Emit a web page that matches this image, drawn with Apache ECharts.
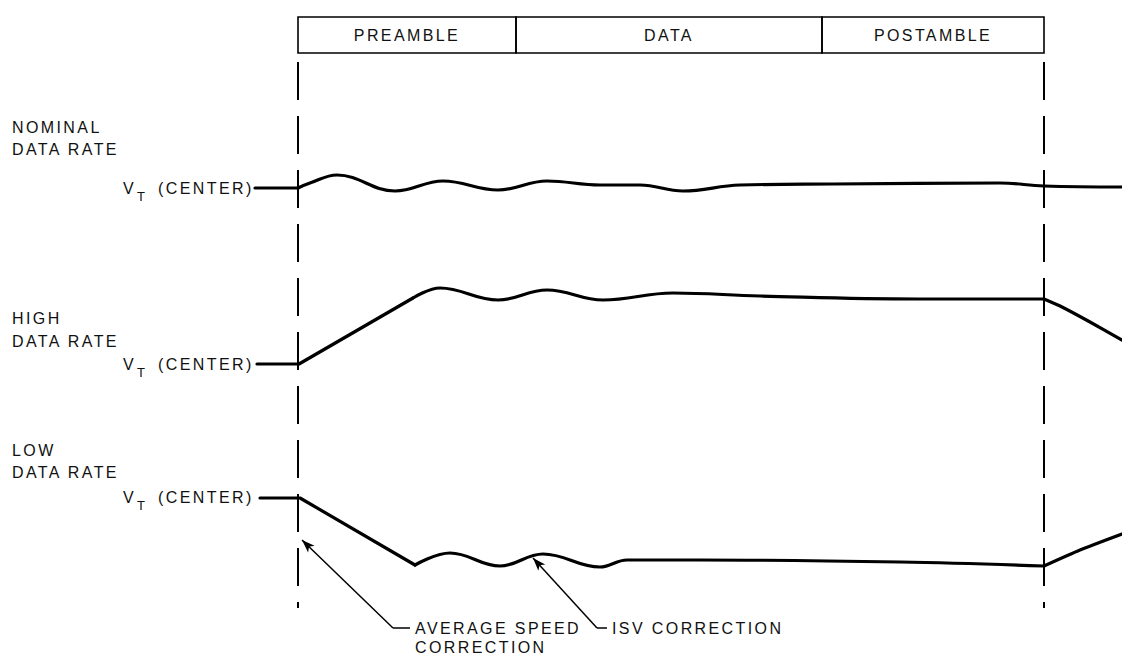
<!DOCTYPE html>
<html>
<head>
<meta charset="utf-8">
<script src="https://cdn.jsdelivr.net/npm/echarts@6/dist/echarts.min.js"></script>
<style>
  html, body { margin: 0; padding: 0; background: #fff; }
  #main { width: 1122px; height: 657px; }
  #main text { letter-spacing: 2.4px; }
</style>
</head>
<body>
<div id="main"></div>
<script>
// time runs left to right; phase edges in the same time units
const phaseNames = ['PREAMBLE', 'DATA', 'POSTAMBLE']
const phaseEdges = [298, 516, 822, 1044]

// [time, deviation from V_T centre]
// lead = flat stub + straight ramp, wave = smooth part, tail = after postamble
const nominalLead = [[255, 0], [298, 0]]
const nominalWave = [
  [298, 0], [310, 5], [337, 13], [395, -3], [443, 7], [498, -2], [547, 7],
  [600, 3], [640, 3], [683, -3], [740, 3], [833, 4], [1000, 5], [1044, 2], [1122, 1]
]
const highLead = [[257, 0], [299, 0], [413, 66]]
const highWave = [
  [413, 66], [440, 76], [498, 64], [547, 74], [603, 64], [673, 71],
  [760, 68], [918, 65], [1044, 65]
]
const highTail = [[1044, 65], [1062, 57], [1090, 42], [1122, 24]]
const lowLead = [[260, 0], [300, 0], [415, -67]]
const lowWave = [
  [415, -67], [450, -55], [500, -68], [543, -56], [600, -69], [627, -62],
  [700, -62], [900, -64], [1044, -68]
]
const lowTail = [[1044, -68], [1080, -52], [1122, -36]]

// annotation leaders: arrow tip, bend, end of tail
const avgSpeedLeader = [[302, 540], [393, 628], [410, 628]]
const isvLeader = [[533, 558], [597, 628], [607, 628]]

const chart = echarts.init(document.getElementById('main'), null, { renderer: 'svg' })

const font = 'Liberation Sans, Arial, sans-serif'
const ink = '#111'

function xAxis(i) {
  return { gridIndex: i, type: 'value', min: 0, max: 1122, show: false }
}

function trace(data, idx, smooth) {
  return {
    type: 'line',
    xAxisIndex: idx,
    yAxisIndex: idx,
    data: data,
    smooth: smooth,
    symbol: 'none',
    silent: true,
    lineStyle: { color: '#000', width: 3.2, cap: 'round', join: 'round' },
  }
}

function text(str, x, y, size, align) {
  return {
    type: 'text',
    x: x,
    y: y,
    silent: true,
    style: {
      text: str,
      fill: ink,
      font: `${size}px ${font}`,
      textAlign: align || 'left',
      textVerticalAlign: 'middle',
    },
  }
}

function vtLabel(y) {
  return [
    text('V', 123, y, 16),
    text('T', 137, y + 8, 13),
    text('(CENTER)', 158, y, 16),
  ]
}

const phaseAreas = phaseNames.map((name, i) => [
  { name: name, coord: [phaseEdges[i], 17] },
  { coord: [phaseEdges[i + 1], 53] },
])

const boundaryLines = [phaseEdges[0], phaseEdges[3]].map((t) => [
  { coord: [t, 62], lineStyle: { color: '#000', width: 2, type: [38, 16] } },
  { coord: [t, 608] },
])

function leader(pts) {
  return [
    [
      { coord: pts[0], symbol: 'arrow', symbolSize: [7, 13] },
      { coord: pts[1], symbol: 'none' },
    ],
    [
      { coord: pts[1], symbol: 'none' },
      { coord: pts[2], symbol: 'none' },
    ],
  ]
}

chart.setOption({
  animation: false,
  backgroundColor: '#fff',
  grid: [
    { left: 0, right: 0, top: 0, bottom: 0 },
    { left: 0, right: 0, top: 138, height: 100 },
    { left: 0, right: 0, top: 284, height: 100 },
    { left: 0, right: 0, top: 478, height: 100 },
  ],
  xAxis: [xAxis(0), xAxis(1), xAxis(2), xAxis(3)],
  yAxis: [
    { gridIndex: 0, type: 'value', min: 0, max: 657, inverse: true, show: false },
    { gridIndex: 1, type: 'value', min: -50, max: 50, show: false },
    { gridIndex: 2, type: 'value', min: -20, max: 80, show: false },
    { gridIndex: 3, type: 'value', min: -80, max: 20, show: false },
  ],
  series: [
    {
      type: 'line',
      xAxisIndex: 0,
      yAxisIndex: 0,
      data: [],
      silent: true,
      markArea: {
        silent: true,
        itemStyle: { color: 'rgba(0,0,0,0)', borderColor: '#000', borderWidth: 1.6 },
        label: {
          position: 'inside',
          color: ink,
          fontFamily: font,
          fontSize: 16,
        },
        data: phaseAreas,
      },
      markLine: {
        silent: true,
        symbol: ['none', 'none'],
        label: { show: false },
        lineStyle: { color: '#000', width: 1.5, type: 'solid' },
        data: [...boundaryLines, ...leader(avgSpeedLeader), ...leader(isvLeader)],
      },
    },
    trace(nominalLead, 1, false),
    trace(nominalWave, 1, 0.4),
    trace(highLead, 2, false),
    trace(highWave, 2, 0.4),
    trace(highTail, 2, 0.2),
    trace(lowLead, 3, false),
    trace(lowWave, 3, 0.4),
    trace(lowTail, 3, 0.2),
  ],
  graphic: [
    text('NOMINAL', 12, 127, 16),
    text('DATA RATE', 12, 149, 16),
    ...vtLabel(188),
    text('HIGH', 12, 318, 16),
    text('DATA RATE', 12, 341, 16),
    ...vtLabel(364),
    text('LOW', 12, 450, 16),
    text('DATA RATE', 12, 472, 16),
    ...vtLabel(497),
    text('AVERAGE SPEED', 415, 628, 16),
    text('CORRECTION', 415, 647, 16),
    text('ISV CORRECTION', 612, 628, 16),
  ],
})
</script>
</body>
</html>
